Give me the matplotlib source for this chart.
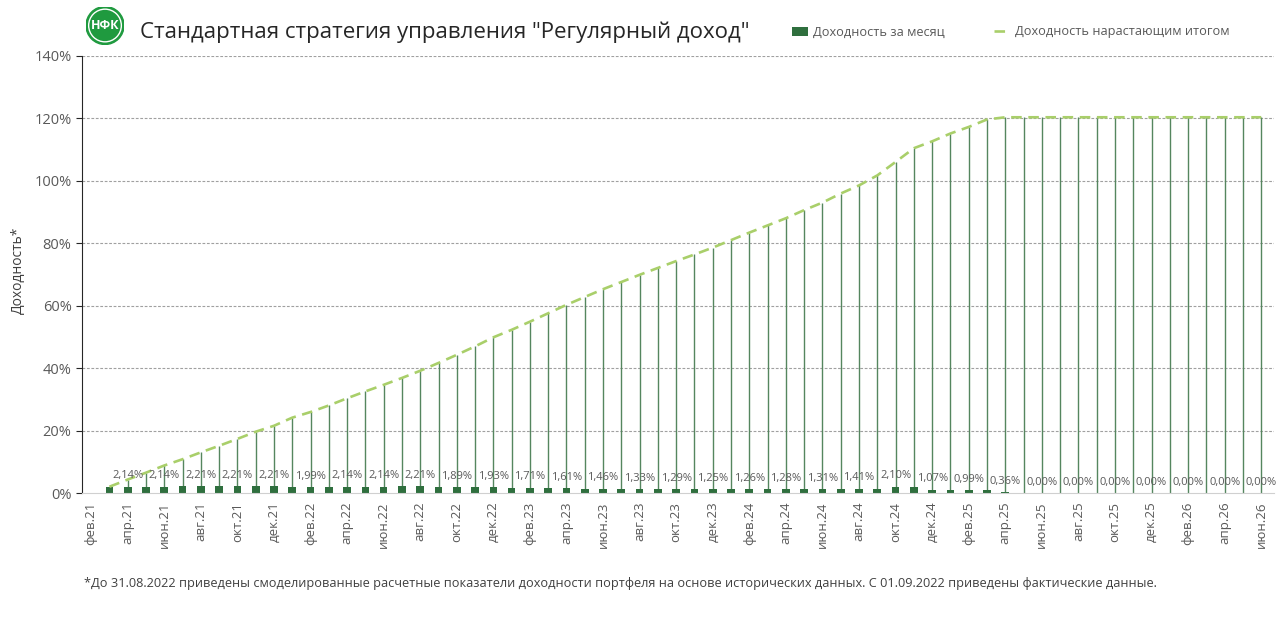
import matplotlib.pyplot as plt
import numpy as np
from matplotlib.patches import Circle

plt.rcParams['font.family'] = ['Open Sans', 'DejaVu Sans']

# categories: фев.21 ... июн.26 (65 months), tick labels on every 2nd month
tick_labels = ['фев.21', 'апр.21', 'июн.21', 'авг.21', 'окт.21', 'дек.21',
               'фев.22', 'апр.22', 'июн.22', 'авг.22', 'окт.22', 'дек.22',
               'фев.23', 'апр.23', 'июн.23', 'авг.23', 'окт.23', 'дек.23',
               'фев.24', 'апр.24', 'июн.24', 'авг.24', 'окт.24', 'дек.24',
               'фев.25', 'апр.25', 'июн.25', 'авг.25', 'окт.25', 'дек.25',
               'фев.26', 'апр.26', 'июн.26']

# monthly return, %
monthly = [np.nan,
           2.14, 2.14, 2.11, 2.14, 2.18, 2.21, 2.20, 2.21, 2.21, 2.21,
           2.10, 1.99, 2.07, 2.14, 2.14, 2.14, 2.18, 2.21, 2.05, 1.89,
           1.91, 1.93, 1.82, 1.71, 1.66, 1.61, 1.53, 1.46, 1.40, 1.33,
           1.31, 1.29, 1.27, 1.25, 1.25, 1.26, 1.27, 1.28, 1.30, 1.31,
           1.36, 1.41, 1.50, 2.10, 2.10, 1.07, 1.05, 0.99, 1.10, 0.36,
           0.00, 0.00, 0.00, 0.00, 0.00, 0.00, 0.00, 0.00, 0.00, 0.00,
           0.00, 0.00, 0.00, 0.00]

# cumulative return, %
cumulative = [np.nan,
              2.1, 4.4, 6.6, 8.9, 10.9, 13.1, 15.2, 17.4, 19.7, 21.6,
              24.2, 26.0, 28.1, 30.4, 32.6, 34.7, 36.9, 39.2, 41.7, 44.3,
              47.0, 49.9, 52.3, 54.9, 57.6, 60.3, 62.8, 65.3, 67.6, 69.9,
              72.1, 74.3, 76.4, 78.6, 81.0, 83.4, 85.7, 88.0, 90.6, 93.0,
              95.9, 98.5, 101.7, 106.0, 110.4, 112.6, 115.1, 117.2, 119.6, 120.3,
              120.3, 120.3, 120.3, 120.3, 120.3, 120.3, 120.3, 120.3, 120.3, 120.3,
              120.3, 120.3, 120.3, 120.3]

x = np.arange(len(monthly))
monthly = np.array(monthly)
cumulative = np.array(cumulative)

fig = plt.figure(figsize=(12.8, 6.3), dpi=100)
ax = fig.add_axes([82 / 1280, 1 - 493.3 / 630, 1192 / 1280, 437.6 / 630])

grey = '#595959'

ax.set_ylim(0, 140)
ax.set_xlim(-0.5, 64.7)
ax.set_yticks(np.arange(0, 141, 20))
ax.set_yticklabels([f'{v}%' for v in range(0, 141, 20)], fontsize=10.5, color=grey)
for v in range(20, 141, 20):
    ax.axhline(v, color='#a0a0a0', lw=0.8, dashes=(2.5, 1.5), zorder=0)

ok = ~np.isnan(cumulative)
ax.vlines(x[ok], 0, cumulative[ok], color='#55865f', lw=1.0, zorder=1)
line, = ax.plot(x, cumulative, color='#a9cf6a', lw=1.9, dashes=(4, 2.5),
                label='Доходность нарастающим итогом', zorder=3)
bars = ax.bar(x, np.nan_to_num(monthly), width=0.42, color='#2f6f3e',
              label='Доходность за месяц', zorder=2)

for i in range(2, len(monthly), 2):
    ax.annotate(f'{monthly[i]:.2f}%'.replace('.', ','), (x[i], monthly[i]),
                xytext=(0, 4), textcoords='offset points', ha='center',
                va='bottom', fontsize=8, color=grey, zorder=4)

ax.set_xticks(x[::2])
ax.set_xticklabels(tick_labels, rotation=90, fontsize=9.5, color=grey)
ax.tick_params(axis='x', length=0, pad=6)
ax.tick_params(axis='y', length=4, color='#262626', direction='out')

for s in ['top', 'right']:
    ax.spines[s].set_visible(False)
ax.spines['bottom'].set_color('#d0d0d0')
ax.spines['left'].set_color('#262626')

fig.text(18 / 1280, 1 - 270 / 630, 'Доходность*', rotation=90, ha='center',
         va='center', fontsize=10, color='#404040')

fig.text(140 / 1280, 1 - 32 / 630, 'Стандартная стратегия управления "Регулярный доход"',
         fontsize=16, color='#262626', va='center', ha='left')

fig.legend(handles=[bars, line], loc='center left',
           bbox_to_anchor=(780 / 1280, 1 - 32 / 630), ncol=2, frameon=False,
           fontsize=9.2, labelcolor=grey, columnspacing=3.8, handlelength=1.3,
           handletextpad=0.4)

fig.text(84 / 1280, 1 - 583 / 630,
         '*До 31.08.2022 приведены смоделированные расчетные показатели доходности '
         'портфеля на основе исторических данных. С 01.09.2022 приведены фактические данные.',
         fontsize=9.2, color='#404040', va='center', ha='left')

# logo
lax = fig.add_axes([86 / 1280, 1 - 45 / 630, 38 / 1280, 39 / 630])
lax.set_xlim(-1, 1)
lax.set_ylim(-1, 1)
lax.set_aspect('equal')
lax.axis('off')
lax.add_patch(Circle((0, 0), 1, color='#1f9a3f'))
lax.add_patch(Circle((0, 0), 0.86, fill=False, ec='white', lw=1))
lax.text(0, 0, 'НФК', color='white', ha='center', va='center', fontsize=9,
         fontweight='bold')

fig.savefig('out.png', dpi=100)
